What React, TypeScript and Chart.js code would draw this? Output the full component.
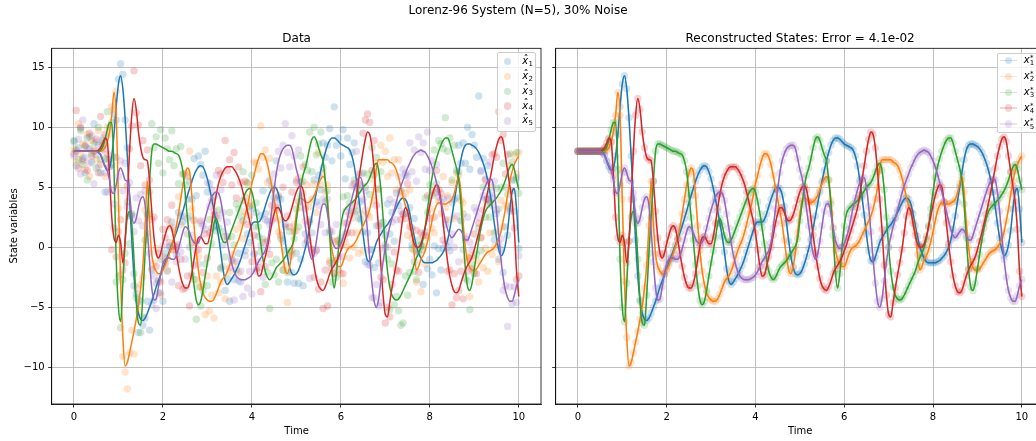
import React, { useEffect, useRef } from "react";
import { Chart, registerables } from "chart.js";

Chart.register(...registerables);

// ---------------------------------------------------------------------------
// Sampled trajectories of the 5-variable Lorenz-96 system, t = 0 .. 10
// ---------------------------------------------------------------------------
const SAMPLE_STEP = 0.05;
const SAMPLE_COUNT = 201;
const TIME: number[] = Array.from({ length: SAMPLE_COUNT }, (_, i) => Math.round(i * SAMPLE_STEP * 100) / 100);

// true / reconstructed states
const X1 = [
  8.0, 8.0, 8.0, 8.0, 8.0, 8.0, 8.0, 8.0, 8.0, 8.0, 8.0, 7.9, 7.7, 7.2, 6.7, 6.4, 6.6, 7.6, 9.4, 11.7,
  13.6, 14.3, 13.2, 10.8, 7.6, 4.0, 0.6, -2.4, -4.4, -5.5, -6.0, -6.1, -5.9, -5.5, -5.0, -4.5, -3.9, -3.3, -2.8, -2.3,
  -1.8, -1.3, -0.8, -0.3, 0.2, 0.7, 1.2, 1.8, 2.4, 3.0, 3.7, 4.3, 4.9, 5.5, 6.0, 6.4, 6.7, 6.8, 6.7, 6.3,
  5.7, 4.9, 4.0, 3.0, 2.0, 0.9, -0.4, -1.8, -2.8, -3.1, -2.9, -2.6, -2.3, -1.9, -1.5, -1.0, -0.4, 0.2, 0.8, 1.4,
  1.9, 2.1, 2.1, 2.1, 2.3, 2.8, 3.4, 4.0, 4.5, 4.9, 5.0, 4.9, 4.4, 3.4, 2.0, 0.5, -0.8, -1.7, -2.2, -2.3,
  -2.2, -1.9, -1.4, -0.8, -0.1, 0.7, 1.6, 2.6, 3.6, 4.6, 5.5, 6.4, 7.2, 7.9, 8.5, 8.9, 9.1, 9.1, 9.0, 8.8,
  8.6, 8.5, 8.4, 8.3, 8.1, 7.6, 6.8, 5.6, 4.2, 2.7, 1.1, -0.3, -1.1, -1.2, -0.8, -0.2, 0.4, 0.8, 1.1, 1.4,
  1.7, 1.9, 2.2, 2.5, 2.9, 3.3, 3.7, 4.0, 4.1, 4.0, 3.6, 2.8, 1.8, 0.9, 0.1, -0.5, -0.9, -1.2, -1.3, -1.3,
  -1.3, -1.3, -1.2, -1.1, -0.9, -0.7, -0.4, 0.0, 0.6, 1.5, 2.6, 3.8, 5.0, 6.2, 7.3, 8.1, 8.5, 8.6, 8.6, 8.5,
  8.4, 8.2, 7.9, 7.5, 7.0, 6.4, 5.6, 4.6, 3.4, 2.0, 0.8, -0.2, -0.7, -0.5, 0.2, 1.4, 3.2, 4.6, 4.9, 3.2,
  0.4,
];
const X2 = [
  8.0, 8.0, 8.0, 8.0, 8.0, 8.0, 8.0, 8.0, 8.0, 8.0, 8.0, 8.0, 8.0, 8.1, 8.3, 8.8, 9.6, 11.0, 12.9, 11.0,
  4.0, -2.8, -7.5, -9.9, -9.6, -8.8, -7.9, -7.0, -6.0, -4.9, -3.4, -1.5, 1.8, 5.5, 2.0, -0.6, -1.6, -2.0, -2.2, -2.2,
  -1.9, -1.5, -1.0, -0.5, 0.1, 0.8, 1.7, 2.8, 4.0, 5.2, 6.1, 6.6, 6.3, 4.3, 1.8, -0.3, -2.0, -3.1, -3.8, -4.2,
  -4.4, -4.5, -4.5, -4.3, -3.9, -3.4, -2.9, -2.6, -2.4, -2.0, -1.5, -0.9, -0.3, 0.2, 0.6, 1.2, 1.9, 2.7, 3.4, 4.3,
  5.3, 6.0, 6.8, 7.4, 7.8, 7.8, 7.5, 6.9, 6.0, 5.0, 4.0, 3.0, 2.0, 0.6, -0.8, -1.9, -2.2, -1.6, -0.4, 1.2,
  2.8, 3.8, 4.1, 4.0, 3.8, 3.7, 3.8, 4.0, 4.3, 4.8, 5.3, 5.7, 5.9, 5.6, 3.9, 1.6, -0.2, -1.0, -1.4, -1.6,
  -1.6, -1.2, -0.6, -0.2, 0.0, 0.1, 0.3, 0.6, 1.0, 1.4, 1.8, 2.2, 2.6, 3.2, 4.0, 5.0, 6.6, 7.3, 7.3, 7.3,
  7.3, 7.3, 7.1, 7.0, 6.8, 6.4, 5.8, 5.0, 4.2, 3.5, 2.9, 2.2, 1.3, -0.6, -1.9, -1.6, -1.0, -0.7, -0.2, 0.5,
  1.3, 2.2, 3.0, 3.5, 3.7, 3.7, 3.6, 3.6, 3.7, 3.8, 4.0, 4.5, 5.3, 5.9, 4.6, 2.0, 0.0, -1.2, -1.7, -1.9,
  -1.9, -1.8, -1.5, -1.2, -0.9, -0.6, -0.4, -0.3, -0.2, 0.0, 0.3, 0.7, 1.3, 2.2, 3.2, 4.4, 5.5, 6.3, 6.9, 7.3,
  7.6,
];
const X3 = [
  8.0, 8.0, 8.0, 8.0, 8.0, 8.0, 8.0, 8.0, 8.0, 8.0, 8.0, 8.0, 8.1, 8.4, 9.0, 9.8, 10.4, 10.4, 6.5, -1.0,
  -5.0, -6.2, -3.0, 0.5, 2.5, 3.0, 2.0, -1.0, -4.5, -6.3, -6.5, -4.0, -0.5, 2.5, 5.5, 8.0, 8.6, 8.6, 8.5, 8.4,
  8.3, 8.2, 8.1, 8.0, 8.0, 7.9, 7.8, 7.7, 7.2, 6.3, 4.5, 2.5, 0.6, -1.5, -3.2, -4.4, -4.8, -4.5, -3.6, -2.4,
  -1.3, -0.3, 0.8, 2.0, 2.4, 1.8, 1.0, 0.5, 0.4, 0.6, 1.0, 1.5, 2.0, 2.5, 3.0, 3.5, 4.0, 4.5, 4.8, 4.9,
  4.6, 3.8, 2.8, 1.6, 0.3, -1.0, -2.0, -2.5, -2.7, -2.5, -2.1, -1.7, -1.5, -1.3, -1.1, -0.8, -0.5, -0.2, 0.1, 0.7,
  2.2, 3.6, 5.0, 6.0, 6.6, 7.4, 8.3, 9.0, 9.2, 8.9, 8.3, 7.7, 7.2, 5.6, 3.6, 1.0, -2.0, -3.4, -2.2, 0.0,
  1.8, 2.8, 3.2, 3.4, 3.6, 3.7, 3.9, 4.1, 4.4, 4.7, 5.0, 5.2, 5.4, 5.8, 6.3, 6.8, 7.0, 6.4, 4.8, 2.5,
  0.0, -2.0, -3.3, -4.0, -4.3, -4.4, -4.3, -4.0, -3.6, -3.2, -2.8, -2.4, -2.0, -1.4, -0.9, -0.5, 0.0, 0.7, 1.8, 3.2,
  4.6, 5.8, 6.7, 7.4, 8.0, 8.5, 8.9, 9.1, 9.1, 8.7, 8.0, 7.3, 6.6, 5.6, 3.6, 0.8, -1.8, -3.3, -3.6, -3.0,
  -1.8, -0.6, 0.6, 1.6, 2.4, 3.0, 3.3, 3.5, 3.7, 3.9, 4.1, 4.4, 4.7, 5.1, 5.6, 6.2, 6.7, 6.9, 6.5, 5.6,
  4.8,
];
const X4 = [
  8.0, 8.0, 8.0, 8.0, 8.0, 8.0, 8.0, 8.0, 8.0, 8.0, 8.0, 8.1, 8.3, 8.7, 9.1, 8.8, 6.0, 2.5, 0.8, 0.4,
  1.0, 0.4, -1.3, 0.5, 4.0, 8.0, 11.0, 12.4, 11.5, 9.6, 8.3, 7.5, 7.3, 7.2, 5.5, 3.0, 0.8, -0.5, -0.9, -0.5,
  0.3, 1.0, 1.6, 1.8, 1.5, 0.6, -0.5, -1.6, -2.5, -3.1, -3.4, -3.4, -3.0, -2.2, -1.0, 0.1, 0.8, 0.9, 0.6, 0.3,
  0.3, 0.9, 2.0, 3.3, 4.4, 5.3, 5.9, 6.3, 6.6, 6.7, 6.7, 6.7, 6.5, 6.2, 5.8, 5.3, 4.6, 3.8, 3.0, 2.2,
  1.2, -0.2, -1.6, -2.4, -2.3, -1.6, -0.8, 0.0, 1.0, 2.0, 2.8, 3.3, 3.3, 2.9, 2.4, 2.2, 2.3, 2.7, 3.3, 4.0,
  4.6, 5.0, 5.1, 4.8, 3.8, 2.4, 1.0, -0.4, -1.6, -2.6, -3.2, -3.5, -3.6, -3.3, -2.8, -2.2, -1.8, -1.5, -1.2, -0.8,
  -0.3, 0.2, 0.8, 1.4, 2.0, 2.6, 3.3, 4.3, 5.6, 6.8, 8.0, 9.0, 9.6, 9.4, 8.3, 6.3, 4.0, 1.5, -1.5, -4.0,
  -5.6, -5.8, -4.6, -3.4, -2.3, -1.3, -0.2, 1.2, 2.6, 3.3, 3.0, 2.0, 1.0, 0.3, 0.0, 0.0, 0.3, 0.9, 1.7, 2.6,
  3.5, 4.3, 4.9, 5.2, 5.0, 3.8, 2.0, 0.3, -1.2, -2.4, -3.2, -3.7, -3.8, -3.6, -3.0, -2.4, -1.9, -1.5, -1.2, -0.8,
  -0.2, 0.5, 1.2, 2.0, 2.8, 3.7, 4.6, 5.6, 6.6, 7.6, 8.4, 9.0, 9.2, 8.8, 7.6, 6.3, 5.1, 3.8, 1.5, -2.0,
  -4.1,
];
const X5 = [
  8.0, 8.0, 8.0, 8.0, 8.0, 8.0, 8.0, 8.0, 8.0, 8.0, 8.0, 7.9, 7.7, 7.2, 6.8, 6.4, 5.6, 4.6, 4.5, 5.2,
  6.2, 6.6, 6.2, 5.6, 5.5, 4.5, 2.6, 2.0, 2.4, 3.3, 4.0, 4.2, 3.5, 1.4, -1.2, -3.4, -4.4, -4.3, -3.3, -2.2,
  -1.4, -1.0, -0.9, -0.9, -1.0, -1.0, -0.7, -0.1, 0.6, 1.3, 1.7, 1.6, 1.2, 0.7, 0.4, 0.3, 0.4, 0.9, 1.6, 2.4,
  3.1, 3.7, 4.2, 4.5, 4.6, 4.5, 3.9, 2.8, 1.6, 0.4, -0.6, -1.4, -2.0, -2.4, -2.6, -2.7, -2.7, -2.7, -2.6, -2.5,
  -2.3, -2.0, -1.6, -1.2, -0.9, -0.6, -0.3, 0.4, 1.6, 3.2, 4.8, 6.2, 7.2, 7.8, 8.2, 8.4, 8.5, 8.5, 8.2, 7.4,
  6.5, 5.8, 4.6, 3.2, 1.8, 0.5, -0.5, -1.0, -0.6, 0.5, 1.8, 3.0, 3.6, 3.6, 2.8, 1.6, 0.6, 0.1, -0.1, 0.0,
  0.3, 0.8, 1.5, 2.4, 3.3, 4.1, 4.8, 5.4, 5.8, 5.8, 5.0, 3.4, 1.3, -1.0, -3.0, -4.5, -5.0, -4.3, -2.8, -1.2,
  0.0, 0.9, 1.7, 2.4, 3.1, 3.8, 4.5, 5.1, 5.6, 6.1, 6.6, 7.0, 7.4, 7.7, 7.9, 8.0, 8.1, 8.0, 7.9, 7.6,
  7.2, 6.7, 6.1, 5.4, 4.6, 3.8, 3.0, 2.2, 1.5, 1.0, 0.8, 1.0, 1.3, 1.5, 1.4, 1.0, 0.6, 0.6, 1.0, 1.6,
  2.2, 2.8, 3.4, 4.0, 4.6, 5.1, 5.5, 5.7, 5.6, 4.6, 3.0, 1.0, -1.0, -2.5, -3.6, -4.2, -4.5, -4.5, -4.0, -3.2,
  -2.7,
];

// noisy observations (30 % noise)
const X1_OBS = [
  8.8, 6.8, 8.3, 9.9, 7.4, 6.2, 9.1, 8.2, 7.1, 10.3, 7.7, 8.5, 6.2, 8.6, 4.6, 7.3, 6.7, 6.9, 11.1, 10.6,
  14.0, 15.3, 14.4, 10.6, 8.3, 2.6, 2.6, -3.2, -3.9, -7.1, -4.5, -6.5, -5.9, -4.5, -6.9, -1.9, -4.4, -3.0, -3.8, -1.0,
  -4.5, -0.5, -2.0, 0.0, 2.1, 0.1, -0.6, 2.9, 2.6, 2.1, 6.0, 4.0, 5.5, 4.0, 7.4, 4.3, 7.6, 6.9, 6.0, 8.0,
  4.6, 5.3, 1.6, 4.2, 1.8, 1.6, -1.8, 0.2, -3.6, -2.6, -4.5, -1.1, -2.7, -1.9, -0.5, -2.9, 2.2, -0.3, 1.1, 0.4,
  3.2, -0.6, 2.9, 0.9, 2.6, 4.7, 2.8, 2.2, 5.6, 5.1, 4.1, 7.2, 4.1, 4.0, 0.5, 1.9, -2.9, -0.8, -2.1, -3.0,
  -0.5, -3.0, -1.0, -3.2, 1.1, 0.5, 2.3, 1.2, 5.6, 3.8, 6.0, 4.8, 8.7, 7.5, 8.5, 9.9, 7.2, 11.7, 8.5, 9.1,
  7.6, 9.8, 5.7, 9.1, 6.9, 7.9, 8.7, 5.0, 2.4, 3.8, 1.3, -1.2, 1.2, -1.5, -0.2, -1.7, 1.8, -1.3, 2.0, 1.5,
  1.0, 3.6, 1.1, 2.9, 0.5, 4.5, 3.5, 4.7, 2.7, 6.0, 2.8, 3.3, 0.2, 2.4, -0.3, -0.5, 0.1, -3.1, 1.3, -1.8,
  -1.0, -2.3, 0.1, -3.8, -0.1, -1.9, -0.1, 1.9, 0.0, -0.3, 3.7, 4.0, 4.1, 8.5, 7.0, 8.7, 7.0, 10.0, 6.5, 9.4,
  8.5, 7.5, 12.6, 6.4, 7.4, 4.0, 6.8, 4.4, 4.1, 0.6, 2.8, -1.0, -0.2, -2.1, 1.7, 1.0, 3.2, 5.6, 3.0, 5.8,
  -0.1,
];
const X2_OBS = [
  8.2, 7.1, 10.3, 7.7, 8.6, 6.5, 9.4, 5.9, 8.9, 8.1, 7.3, 9.7, 6.9, 8.5, 5.9, 10.0, 9.4, 11.7, 11.5, 13.0,
  3.2, -2.3, -9.1, -10.4, -11.8, -8.8, -6.9, -8.9, -3.4, -5.4, -3.1, -2.5, 3.1, 2.8, 2.8, -1.8, -1.3, -0.1, -2.8, -4.0,
  -0.8, -1.3, -1.9, 1.8, -0.2, 1.4, 0.2, 4.2, 1.9, 6.1, 6.2, 5.9, 8.0, 3.2, 2.2, -2.7, -0.8, -3.3, -3.1, -5.6,
  -2.4, -5.3, -4.0, -5.9, -2.4, -3.8, -2.9, -1.6, -4.3, 0.6, -2.0, -0.6, -1.3, 1.5, -2.1, 2.0, 0.7, 3.0, 5.3, 3.7,
  3.5, 7.1, 7.0, 6.5, 10.1, 7.5, 8.1, 5.4, 7.4, 2.9, 4.9, 3.1, 1.3, 2.3, -1.9, -1.5, -4.6, -0.4, -0.6, 1.9,
  1.4, 5.8, 3.3, 4.5, 2.2, 5.2, 3.4, 4.0, 5.3, 2.9, 7.9, 5.2, 6.2, 4.6, 5.2, -1.1, 0.6, -2.2, -1.1, 0.3,
  -2.2, -3.0, 0.5, 0.0, -0.9, 2.4, 0.0, 1.2, -0.5, 2.8, -0.3, 3.1, 2.7, 2.5, 5.7, 3.9, 7.0, 4.9, 8.5, 7.1,
  8.0, 5.9, 9.1, 6.2, 7.3, 4.8, 7.3, 4.6, 4.2, 4.5, 1.0, 4.8, 0.8, -0.3, -2.9, -0.3, -3.7, 0.1, -1.4, 0.8,
  3.2, 1.6, 1.2, 4.6, 3.9, 2.8, 5.9, 3.3, 4.3, 2.3, 5.4, 2.4, 6.2, 6.0, 3.9, 3.7, -1.1, -0.8, -4.1, -0.7,
  -2.1, -1.1, -2.9, 0.8, -1.7, -0.1, -2.0, 1.2, -0.6, 0.0, 1.3, -1.2, 3.9, 1.7, 3.5, 3.4, 6.8, 3.6, 7.7, 6.1,
  7.9,
];
const X3_OBS = [
  8.9, 8.1, 7.3, 9.7, 6.9, 8.4, 5.6, 9.2, 7.8, 8.7, 6.6, 10.0, 7.3, 8.9, 7.4, 11.3, 10.0, 10.4, 7.5, -2.9,
  -2.4, -6.7, -2.7, -0.5, 3.8, 0.3, 2.8, -2.2, -4.2, -4.4, -7.1, -5.8, 0.6, 2.7, 4.6, 10.3, 8.3, 9.2, 7.0, 9.8,
  6.2, 9.1, 8.2, 7.3, 9.7, 6.8, 8.2, 5.3, 8.4, 6.1, 5.2, 1.1, 2.6, -2.3, -2.7, -6.0, -3.3, -4.9, -3.6, -1.4,
  -3.2, 2.3, 0.3, 2.3, 1.4, 3.1, -1.7, 1.3, -0.8, 0.9, 2.9, 0.9, 0.2, 3.6, 3.2, 2.6, 6.3, 4.2, 5.4, 3.4,
  6.0, 1.7, 3.7, 1.7, -0.4, 0.7, -3.1, -2.1, -5.1, -1.3, -2.3, -1.0, -2.9, 0.7, -1.9, -0.3, -2.1, 1.3, -0.3, 0.7,
  3.2, 1.7, 7.6, 5.5, 6.9, 6.4, 9.6, 6.3, 10.0, 7.7, 8.6, 9.6, 6.6, 3.8, 4.7, 1.2, -2.9, -1.1, -2.5, 0.6,
  0.3, 4.2, 1.1, 4.3, 3.7, 3.0, 5.6, 3.0, 4.8, 2.3, 6.2, 5.0, 6.1, 4.4, 8.3, 6.0, 7.5, 4.8, 6.3, 2.1,
  0.0, -1.0, -5.2, -1.4, -4.8, -4.1, -5.3, -6.5, -6.3, -2.4, -4.0, -2.1, -0.1, -2.0, -2.7, 0.6, 0.2, -0.2, 4.1, 2.9,
  5.2, 4.3, 8.1, 5.3, 8.9, 8.6, 8.2, 10.8, 8.0, 9.1, 5.6, 8.5, 6.4, 6.3, 2.2, 2.8, -2.6, -2.8, -5.2, -1.5,
  -2.2, -0.6, 1.6, -0.3, 5.0, 2.5, 3.6, 2.5, 5.0, 1.2, 4.9, 3.2, 5.0, 7.0, 5.0, 4.4, 7.8, 7.1, 5.6, 7.9,
  4.5,
];
const X4_OBS = [
  7.8, 11.4, 6.6, 10.0, 7.2, 8.5, 6.4, 9.5, 7.6, 8.0, 9.0, 6.2, 10.9, 8.2, 9.4, 7.8, 7.3, -0.2, 1.6, -0.8,
  1.3, 2.3, -1.9, -1.3, 5.1, 8.2, 10.1, 14.7, 11.2, 10.2, 6.8, 8.9, 5.2, 8.1, 5.6, 2.3, 2.5, -1.6, -0.5, -2.9,
  1.5, 0.8, 2.3, 0.4, 3.5, -0.2, 0.0, -3.2, -1.0, -3.5, -3.4, -2.4, -4.9, 0.4, -1.5, 0.4, -0.2, 2.2, -2.1, 1.1,
  -0.9, 1.2, 3.9, 2.7, 2.6, 6.4, 6.1, 5.4, 8.9, 6.4, 7.3, 5.2, 7.9, 4.1, 6.7, 5.4, 3.9, 5.5, 1.9, 2.6,
  -1.2, 1.0, -1.8, -1.7, -3.7, 0.4, -1.6, 0.5, -0.6, 3.5, 2.4, 3.3, 4.3, 1.0, 5.0, 1.7, 2.6, 1.7, 4.6, 1.3,
  5.4, 3.8, 5.4, 6.7, 3.2, 0.6, 2.1, -0.2, -2.5, -0.3, -3.5, -2.9, -5.1, -1.9, -4.9, -1.3, -1.7, -2.2, 0.5, -1.9,
  0.1, -2.2, 2.0, 1.2, 2.7, 1.2, 5.3, 3.5, 6.1, 5.2, 9.5, 10.6, 11.1, 10.4, 6.4, 8.9, 3.5, 1.8, -2.5, -2.7,
  -6.3, -5.0, -5.8, -3.1, -0.4, -1.9, -2.0, 2.3, 2.8, 2.4, 5.3, 1.7, 1.6, -1.2, 1.4, -2.1, 1.2, 1.0, 1.0, 4.3,
  2.4, 4.7, 2.5, 6.4, 4.8, 4.5, 0.6, 2.3, -2.0, -1.9, -4.8, -2.2, -4.2, -3.6, -2.0, -4.3, 0.7, -2.0, -0.9, -1.8,
  1.1, -2.2, 2.0, 0.8, 3.1, 5.6, 4.0, 3.8, 7.7, 7.8, 7.5, 11.3, 8.9, 9.4, 6.1, 7.7, 3.0, 4.7, 1.6, -2.7,
  -2.4,
];
const X5_OBS = [
  7.6, 8.0, 9.0, 6.1, 10.6, 7.5, 8.3, 7.0, 9.3, 5.3, 8.8, 6.7, 8.0, 9.1, 6.2, 4.6, 6.7, 4.8, 3.6, 7.5,
  5.9, 7.2, 4.7, 7.0, 3.4, 5.4, 2.7, 1.3, 4.1, 2.2, 4.4, 1.8, 4.7, 1.2, -0.5, -4.8, -2.4, -5.1, -2.8, -3.8,
  0.1, -1.4, -0.9, 0.1, -2.9, 1.6, -1.2, 0.2, -0.4, 2.6, -1.0, 2.4, 0.0, 1.0, 2.3, -0.3, -1.4, 2.0, 1.8, 1.5,
  5.4, 3.4, 4.8, 3.0, 6.0, 2.4, 4.8, 2.9, 0.9, 2.1, -1.7, -1.0, -4.4, -1.2, -2.8, -2.0, -4.1, -0.7, -3.4, -2.0,
  -3.9, -0.5, -2.0, -1.2, 0.1, -2.5, 2.3, -0.1, 1.9, 2.2, 6.1, 3.5, 8.0, 6.6, 8.5, 10.3, 7.9, 6.7, 9.3, 7.6,
  5.6, 8.1, 4.3, 3.8, 0.3, 1.9, -2.6, -0.1, -0.5, -0.2, 3.5, 1.9, 4.0, 1.2, 4.0, 1.4, 1.3, -1.3, 1.9, -0.8,
  0.8, -0.8, 3.0, 2.0, 3.3, 5.1, 2.9, 8.0, 5.3, 6.1, 4.0, 4.7, -1.4, -0.2, -4.2, -4.2, -3.1, -4.9, -4.6, -0.1,
  0.2, 0.0, 4.0, 2.1, 3.7, 2.3, 5.9, 3.0, 6.5, 6.2, 5.9, 8.7, 6.3, 8.1, 5.5, 9.2, 7.9, 8.7, 6.5, 9.6,
  6.4, 7.2, 4.5, 6.9, 4.2, 3.8, 4.0, 0.3, 4.1, 0.5, 1.1, 0.0, 2.6, -1.2, 2.2, -0.2, 0.9, 2.5, 0.4, -0.2,
  3.3, 3.0, 2.5, 6.3, 4.3, 5.7, 4.0, 7.1, 3.5, 5.5, 3.1, 0.3, 0.7, -3.6, -3.2, -6.6, -3.3, -4.7, -3.3, -4.6,
  -0.7,
];

const TRUE_STATES = [X1, X2, X3, X4, X5];
const NOISY_STATES = [X1_OBS, X2_OBS, X3_OBS, X4_OBS, X5_OBS];
const STATE_INDICES = ["1", "2", "3", "4", "5"];

const X_TICKS = [0, 2, 4, 6, 8, 10];
const Y_TICKS = [-10, -5, 0, 5, 10, 15];
const X_LIMITS = [-0.5, 10.5];
const Y_LIMITS = [-13.06, 16.58];

const FIG_TITLE = "Lorenz-96 System (N=5), 30% Noise";
const LEFT_TITLE = "Data";
const RIGHT_TITLE = "Reconstructed States: Error = 4.1e-02";
const X_LABEL = "Time";
const Y_LABEL = "State variables";

// ---------------------------------------------------------------------------
// Styling / layout
// ---------------------------------------------------------------------------
const TAB10: number[][] = [
  [31, 119, 180],
  [255, 127, 14],
  [44, 160, 44],
  [214, 39, 40],
  [148, 103, 189],
];
const rgba = (c: number[], a: number) => `rgba(${c[0]},${c[1]},${c[2]},${a})`;
const FONT = "'DejaVu Sans', 'Liberation Sans', sans-serif";

const FIG_W = 1036;
const FIG_H = 441;
const LEFT_AXES = { left: 51.7, right: 541.5, top: 48.3, bottom: 404 };
const RIGHT_AXES = { left: 555.7, right: 1044.6, top: 48.3, bottom: 404 };
const LEFT_CANVAS = { x: 0, w: 545 };
const RIGHT_CANVAS = { x: 545, w: 503 };

const OBS_ALPHA = 0.22;
const BAND_ALPHA = 0.2;
const MARKER_R = 3.7;

const fmtTick = (v: number) => (v < 0 ? "\u2212" + Math.abs(v) : String(v));

const framePlugin = {
  id: "axesFrame",
  afterDraw(chart: any) {
    const { ctx, chartArea: a } = chart;
    ctx.save();
    ctx.strokeStyle = "#000";
    ctx.lineWidth = 0.8;
    ctx.strokeRect(a.left, a.top, a.right - a.left, a.bottom - a.top);
    ctx.restore();
  },
};

const series = (ys: number[]) => TIME.map((t, i) => ({ x: t, y: ys[i] }));

function lineDatasets() {
  return TRUE_STATES.map((ys, k) => ({
    data: series(ys),
    borderColor: rgba(TAB10[k], 1),
    borderWidth: 1.5,
    pointRadius: 0,
    fill: false,
    cubicInterpolationMode: "monotone" as const,
    order: 4 - k,
  }));
}

function observationDatasets() {
  return NOISY_STATES.map((ys, k) => ({
    data: series(ys),
    showLine: false,
    pointRadius: MARKER_R,
    pointBackgroundColor: rgba(TAB10[k], OBS_ALPHA),
    pointBorderWidth: 0,
    borderColor: "rgba(0,0,0,0)",
    order: 14 - k,
  }));
}

function bandDatasets() {
  return TRUE_STATES.map((ys, k) => ({
    data: series(ys),
    borderColor: rgba(TAB10[k], BAND_ALPHA),
    borderWidth: 1.5,
    pointRadius: MARKER_R,
    pointBackgroundColor: rgba(TAB10[k], BAND_ALPHA),
    pointBorderWidth: 0,
    fill: false,
    cubicInterpolationMode: "monotone" as const,
    order: 14 - k,
  }));
}

function makeChart(
  canvas: HTMLCanvasElement,
  datasets: any[],
  axes: { left: number; right: number; top: number; bottom: number },
  cv: { x: number; w: number },
  showYLabels: boolean
) {
  const localLeft = axes.left - cv.x;
  const localRight = axes.right - cv.x;
  const grid = {
    color: "#b0b0b0",
    lineWidth: 0.8,
    tickColor: "#000",
    tickLength: 3.5,
    tickWidth: 0.8,
    drawTicks: true,
  };
  const border = { display: true, color: "#000", width: 0.8 };
  const tickFont = { family: FONT, size: 10 };
  return new Chart(canvas, {
    type: "line",
    data: { datasets },
    options: {
      animation: false,
      responsive: false,
      devicePixelRatio: 1,
      events: [],
      layout: { padding: { left: 0, right: cv.w - localRight, top: axes.top, bottom: 0 } },
      plugins: { legend: { display: false }, tooltip: { enabled: false }, title: { display: false } },
      scales: {
        x: {
          type: "linear",
          position: "bottom",
          min: X_LIMITS[0],
          max: X_LIMITS[1],
          afterBuildTicks: (s: any) => {
            s.ticks = X_TICKS.map((v) => ({ value: v }));
          },
          afterFit: (s: any) => {
            s.height = FIG_H - axes.bottom;
            s.paddingLeft = 0;
            s.paddingRight = 0;
          },
          ticks: {
            callback: (v: any) => fmtTick(Number(v)),
            padding: 3.5,
            maxRotation: 0,
            autoSkip: false,
            color: "#000",
            font: tickFont,
          },
          grid,
          border,
        },
        y: {
          type: "linear",
          position: "left",
          min: Y_LIMITS[0],
          max: Y_LIMITS[1],
          afterBuildTicks: (s: any) => {
            s.ticks = Y_TICKS.map((v) => ({ value: v }));
          },
          afterFit: (s: any) => {
            s.width = localLeft;
            s.paddingTop = 0;
            s.paddingBottom = 0;
          },
          ticks: {
            callback: (v: any) => (showYLabels ? fmtTick(Number(v)) : ""),
            padding: 3.5,
            autoSkip: false,
            color: "#000",
            font: tickFont,
          },
          grid,
          border,
        },
      },
    },
    plugins: [framePlugin],
  } as any);
}

// ---------------------------------------------------------------------------
// Text pieces
// ---------------------------------------------------------------------------
function CenteredText({ cx, baseline, size, text }: { cx: number; baseline: number; size: number; text: string }) {
  return (
    <div
      style={{
        position: "absolute",
        left: cx - 300,
        width: 600,
        top: baseline - size * 0.846,
        fontSize: size,
        lineHeight: `${size}px`,
        textAlign: "center",
        whiteSpace: "nowrap",
      }}
    >
      {text}
    </div>
  );
}

// a single run of text placed by its baseline
function Glyph({
  left,
  baseline,
  size,
  italic,
  children,
}: {
  left: number;
  baseline: number;
  size: number;
  italic?: boolean;
  children: React.ReactNode;
}) {
  return (
    <span
      style={{
        position: "absolute",
        left,
        top: baseline - size * 0.846,
        fontSize: size,
        lineHeight: `${size}px`,
        fontStyle: italic ? "italic" : "normal",
        whiteSpace: "nowrap",
      }}
    >
      {children}
    </span>
  );
}

function HatLabel({ x, yc, sub }: { x: number; yc: number; sub: string }) {
  return (
    <>
      <Glyph left={x} baseline={yc + 3} size={10} italic>
        x
      </Glyph>
      <Glyph left={x + 1.4} baseline={yc + 1.6} size={10}>
        {"\u02C6"}
      </Glyph>
      <Glyph left={x + 6.2} baseline={yc + 5} size={7}>
        {sub}
      </Glyph>
    </>
  );
}

function StarLabel({ x, yc, sub }: { x: number; yc: number; sub: string }) {
  return (
    <>
      <Glyph left={x} baseline={yc + 3} size={10} italic>
        x
      </Glyph>
      <Glyph left={x + 6.3} baseline={yc + 0.5} size={7}>
        *
      </Glyph>
      <Glyph left={x + 6.0} baseline={yc + 5.6} size={7}>
        {sub}
      </Glyph>
    </>
  );
}

function Dot({ cx, cy, color }: { cx: number; cy: number; color: string }) {
  return (
    <div
      style={{
        position: "absolute",
        left: cx - MARKER_R,
        top: cy - MARKER_R,
        width: MARKER_R * 2,
        height: MARKER_R * 2,
        borderRadius: "50%",
        background: color,
      }}
    />
  );
}

export default function App() {
  const leftRef = useRef<HTMLCanvasElement>(null);
  const rightRef = useRef<HTMLCanvasElement>(null);

  useEffect(() => {
    Chart.defaults.font.family = FONT;
    Chart.defaults.color = "#000";
    const left = makeChart(leftRef.current!, [...lineDatasets(), ...observationDatasets()], LEFT_AXES, LEFT_CANVAS, true);
    const right = makeChart(rightRef.current!, [...lineDatasets(), ...bandDatasets()], RIGHT_AXES, RIGHT_CANVAS, false);
    return () => {
      left.destroy();
      right.destroy();
    };
  }, []);

  const leftCx = (LEFT_AXES.left + LEFT_AXES.right) / 2;
  const rightCx = (RIGHT_AXES.left + RIGHT_AXES.right) / 2;
  const axesCy = (LEFT_AXES.top + LEFT_AXES.bottom) / 2;

  return (
    <div
      style={{
        position: "fixed",
        left: 0,
        top: 0,
        width: FIG_W,
        height: FIG_H,
        overflow: "hidden",
        background: "#fff",
        color: "#000",
        fontFamily: FONT,
      }}
    >
      <canvas ref={leftRef} width={LEFT_CANVAS.w} height={FIG_H} style={{ position: "absolute", left: LEFT_CANVAS.x, top: 0 }} />
      <canvas ref={rightRef} width={RIGHT_CANVAS.w} height={FIG_H} style={{ position: "absolute", left: RIGHT_CANVAS.x, top: 0 }} />

      <CenteredText cx={518} baseline={13.7} size={12} text={FIG_TITLE} />
      <CenteredText cx={leftCx} baseline={41.7} size={12} text={LEFT_TITLE} />
      <CenteredText cx={rightCx} baseline={41.7} size={12} text={RIGHT_TITLE} />
      <CenteredText cx={leftCx} baseline={434} size={10} text={X_LABEL} />
      <CenteredText cx={rightCx} baseline={434} size={10} text={X_LABEL} />

      <div
        style={{
          position: "absolute",
          left: 13.5 - 100,
          top: axesCy - 5,
          width: 200,
          height: 10,
          fontSize: 10,
          lineHeight: "10px",
          textAlign: "center",
          whiteSpace: "nowrap",
          transform: "rotate(-90deg)",
          transformOrigin: "50% 50%",
        }}
      >
        {Y_LABEL}
      </div>

      {/* legend of the observation panel */}
      <div
        style={{
          position: "absolute",
          left: 496.7,
          top: 52.3,
          width: 39,
          height: 80,
          boxSizing: "border-box",
          border: "1px solid #cccccc",
          borderRadius: 2,
          background: "rgba(255,255,255,0.8)",
        }}
      />
      {STATE_INDICES.map((s, k) => {
        const yc = 61.7 + k * 14.8;
        return (
          <React.Fragment key={"l" + k}>
            <Dot cx={507.7} cy={yc} color={rgba(TAB10[k], OBS_ALPHA)} />
            <HatLabel x={522.2} yc={yc} sub={s} />
          </React.Fragment>
        );
      })}

      {/* legend of the reconstruction panel */}
      <div
        style={{
          position: "absolute",
          left: 997.3,
          top: 52.7,
          width: 60,
          height: 80,
          boxSizing: "border-box",
          border: "1px solid #cccccc",
          borderRadius: 2,
          background: "rgba(255,255,255,0.8)",
        }}
      />
      {STATE_INDICES.map((s, k) => {
        const yc = 60.7 + k * 15.8;
        return (
          <React.Fragment key={"r" + k}>
            <div
              style={{
                position: "absolute",
                left: 1000,
                top: yc - 0.75,
                width: 16.7,
                height: 1.5,
                background: rgba(TAB10[k], BAND_ALPHA),
              }}
            />
            <Dot cx={1008.3} cy={yc} color={rgba(TAB10[k], BAND_ALPHA)} />
            <StarLabel x={1023.8} yc={yc} sub={s} />
          </React.Fragment>
        );
      })}
    </div>
  );
}
